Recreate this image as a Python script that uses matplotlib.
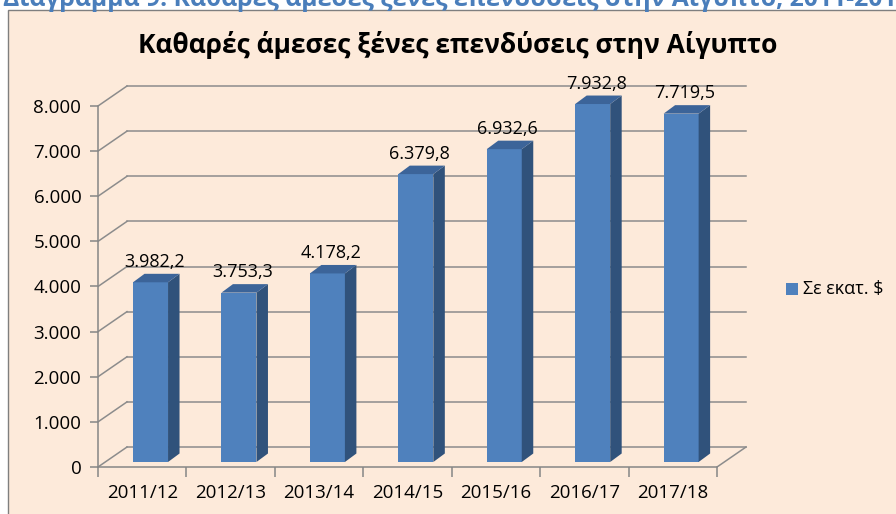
import matplotlib
matplotlib.use('Agg')
import matplotlib.pyplot as plt
from matplotlib.patches import Rectangle, Polygon

# Data
years = ['2011/12', '2012/13', '2013/14', '2014/15', '2015/16', '2016/17', '2017/18']
fdi = [3982.2, 3753.3, 4178.2, 6379.8, 6932.6, 7932.8, 7719.5]
y_ticks = [0, 1000, 2000, 3000, 4000, 5000, 6000, 7000, 8000]

title = 'Καθαρές άμεσες ξένες επενδύσεις στην Αίγυπτο'
caption = 'Διάγραμμα 9: Καθαρές άμεσες ξένες επενδύσεις στην Αίγυπτο, 2011-2018'
legend_label = 'Σε εκατ. $'

plt.rcParams['font.family'] = ['Open Sans', 'DejaVu Sans']

W, H = 896, 514
fig = plt.figure(figsize=(W / 100, H / 100), dpi=100)
fig.patch.set_facecolor('white')

# chart area (peach box, cut off at right and bottom)
fig.patches.append(Rectangle((8 / W, -0.1), 1.2, 1.1 - 10 / H, transform=fig.transFigure,
                             facecolor='#FDEADA', edgecolor='#7F7F7F', lw=1.0, zorder=-2))

# caption cut off at top
fig.text(3 / W, 1 - 6 / H, caption, color='#4A7EBB', fontsize=17.8, fontweight='bold',
         ha='left', va='baseline')

fig.text(458 / W, 1 - 45 / H, title, fontsize=19, fontweight='bold', ha='center', va='center',
         color='black')

ax = fig.add_axes([98 / W, 47 / H, 662 / W, 387 / H])
ax.set_zorder(2)
ax.patch.set_alpha(0)
n = len(years)
ax.set_xlim(-0.5, 6.986)
ax.set_ylim(0, 8576)

# 3D offsets in data units
wall_dx, wall_dy = 0.328, 443
bar_sx, bar_sy = 0.094, 111
bar_w = 0.396
dep_dx, dep_dy = 0.130, 188

grid_c = '#8C8C8C'
for v in y_ticks:
    ax.plot([-0.5 + wall_dx, n - 0.5 + wall_dx], [v + wall_dy, v + wall_dy], color=grid_c, lw=1.1, zorder=1)
    ax.plot([-0.5, -0.5 + wall_dx], [v, v + wall_dy], color=grid_c, lw=1.1, zorder=1)
ax.plot([n - 0.5, n - 0.5 + wall_dx], [0, wall_dy], color=grid_c, lw=1.1, zorder=1)

front_c, side_c, top_c = '#4F81BD', '#30527B', '#3C6499'
xs = [i + bar_sx for i in range(n)]
ax.bar(xs, fdi, width=bar_w, bottom=bar_sy, color=front_c, zorder=3)
for x, v in zip(xs, fdi):
    xl, xr = x - bar_w / 2, x + bar_w / 2
    top = bar_sy + v
    ax.add_patch(Polygon([(xr, bar_sy), (xr + dep_dx, bar_sy + dep_dy), (xr + dep_dx, top + dep_dy), (xr, top)],
                         closed=True, facecolor=side_c, edgecolor='none', zorder=3, clip_on=False))
    ax.add_patch(Polygon([(xl, top), (xl + dep_dx, top + dep_dy), (xr + dep_dx, top + dep_dy), (xr, top)],
                         closed=True, facecolor=top_c, edgecolor='none', zorder=3, clip_on=False))
    lbl = f'{v:,.1f}'.replace(',', 'X').replace('.', ',').replace('X', '.')
    ax.text(x + 0.04, top + dep_dy + 60, lbl, ha='center', va='bottom', fontsize=13, zorder=4)

# axes
for s in ['top', 'right']:
    ax.spines[s].set_visible(False)
ax.spines['left'].set_bounds(0, 8000)
ax.spines['bottom'].set_bounds(-0.5, n - 0.5)
for s in ['left', 'bottom']:
    ax.spines[s].set_color('#868686')
    ax.spines[s].set_linewidth(1.1)

ax.set_yticks(y_ticks)
ax.set_yticklabels([f'{v:,}'.replace(',', '.') for v in y_ticks])
ax.tick_params(axis='y', length=6, width=1.1, color='#868686', labelsize=13.5, pad=6)

ax.set_xticks([i - 0.5 for i in range(n + 1)])
ax.set_xticklabels([])
ax.set_xticks(range(n), minor=True)
ax.set_xticklabels(years, minor=True)
ax.tick_params(axis='x', which='major', length=7, width=1.1, color='#868686')
ax.tick_params(axis='x', which='minor', length=0, labelsize=13.5, pad=12)

# legend
fig.patches.append(Rectangle((786 / W, 1 - 295 / H), 12 / W, 12 / H, transform=fig.transFigure,
                             facecolor=front_c, edgecolor='none'))
fig.text(803 / W, 1 - 289 / H, legend_label, fontsize=13, ha='left', va='center')

fig.savefig('out.png', dpi=100)
